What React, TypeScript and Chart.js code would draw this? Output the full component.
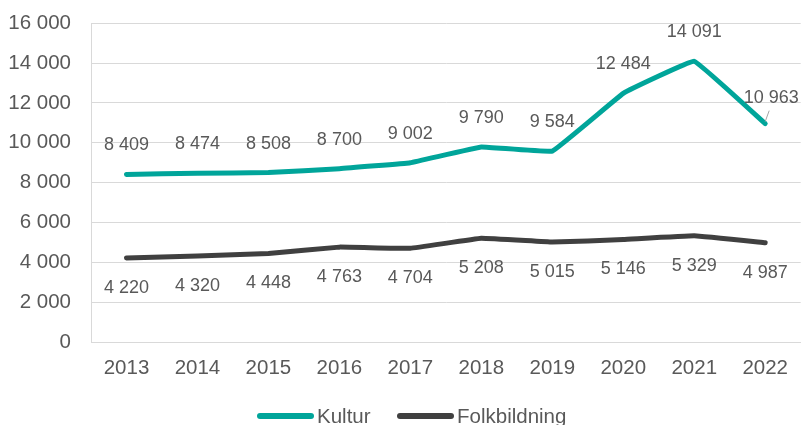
import React, { useEffect, useRef } from "react";
import { Chart, registerables } from "chart.js";

Chart.register(...registerables);

const years = ["2013", "2014", "2015", "2016", "2017", "2018", "2019", "2020", "2021", "2022"];
const kultur = [8409, 8474, 8508, 8700, 9002, 9790, 9584, 12484, 14091, 10963];
const folkbildning = [4220, 4320, 4448, 4763, 4704, 5208, 5015, 5146, 5329, 4987];
const yMax = 16000;
const yStep = 2000;

const FONT = "'Liberation Sans', Arial, sans-serif";
const TEXT = "#595959";
const TEAL = "#00A59A";
const DARK = "#404040";
const GRID = "#d9d9d9";
const SHIFT = 9;

const fmt = (v: number) => {
  const s = Math.round(v).toString();
  return s.replace(/\B(?=(\d{3})+(?!\d))/g, " ");
};

const labelPlugin = {
  id: "valueLabels",
  afterDatasetsDraw(chart: any) {
    const ctx = chart.ctx;
    ctx.save();
    ctx.font = `18px ${FONT}`;
    ctx.fillStyle = TEXT;
    ctx.textAlign = "center";
    ctx.textBaseline = "middle";
    chart.data.datasets.forEach((ds: any, di: number) => {
      const meta = chart.getDatasetMeta(di);
      meta.data.forEach((pt: any, i: number) => {
        const v = ds.data[i];
        const above = di === 0;
        let x = pt.x;
        let y = above ? pt.y - 29 : pt.y + 30;
        const last = i === meta.data.length - 1;
        if (above && last) {
          x = pt.x + 6;
          y = pt.y - 26;
          ctx.strokeStyle = "#a6a6a6";
          ctx.lineWidth = 1;
          ctx.beginPath();
          ctx.moveTo(pt.x, pt.y - 2);
          ctx.lineTo(pt.x + 4, pt.y - 13);
          ctx.stroke();
        }
        ctx.fillText(fmt(v), x, y);
      });
    });
    ctx.restore();
  },
};

const legendPlugin = {
  id: "customLegend",
  afterDraw(chart: any) {
    const ctx = chart.ctx;
    const items = [
      { label: "Kultur", color: TEAL, x: 260 },
      { label: "Folkbildning", color: DARK, x: 400 },
    ];
    const y = 416 + SHIFT;
    ctx.save();
    ctx.font = `20.5px ${FONT}`;
    ctx.textBaseline = "middle";
    ctx.textAlign = "left";
    items.forEach((it) => {
      ctx.strokeStyle = it.color;
      ctx.lineWidth = 6;
      ctx.lineCap = "round";
      ctx.beginPath();
      ctx.moveTo(it.x, y);
      ctx.lineTo(it.x + 51, y);
      ctx.stroke();
      ctx.fillStyle = TEXT;
      ctx.fillText(it.label, it.x + 57, y + 1);
    });
    ctx.restore();
  },
};

export default function App() {
  const ref = useRef<HTMLCanvasElement>(null);
  useEffect(() => {
    if (!ref.current) return;
    const chart = new Chart(ref.current, {
      type: "line",
      data: {
        labels: years,
        datasets: [
          {
            label: "Kultur",
            data: kultur,
            borderColor: TEAL,
            backgroundColor: TEAL,
            borderWidth: 5,
            pointRadius: 0,
            tension: 0.06,
            borderCapStyle: "round",
            borderJoinStyle: "round",
          },
          {
            label: "Folkbildning",
            data: folkbildning,
            borderColor: DARK,
            backgroundColor: DARK,
            borderWidth: 5,
            pointRadius: 0,
            tension: 0.06,
            borderCapStyle: "round",
            borderJoinStyle: "round",
          },
        ],
      },
      options: {
        animation: false,
        responsive: false,
        maintainAspectRatio: false,
        layout: { padding: { top: 11, right: 0, bottom: 38, left: 0 } },
        plugins: { legend: { display: false }, tooltip: { enabled: false } },
        scales: {
          x: {
            offset: true,
            grid: { display: false, drawTicks: false, offset: true },
            border: { display: true, color: GRID, width: 1 },
            ticks: { color: TEXT, font: { family: FONT, size: 20.5 }, padding: 14, maxRotation: 0 },
            afterFit: (s: any) => { s.height = 45; },
          },
          y: {
            min: 0,
            max: yMax,
            grid: { color: GRID, lineWidth: 1, drawTicks: false },
            border: { display: true, color: GRID, width: 1 },
            ticks: {
              stepSize: yStep,
              color: TEXT,
              font: { family: FONT, size: 20.5 },
              padding: 20,
              callback: (v: any) => fmt(Number(v)),
            },
            afterFit: (s: any) => { s.width = 91; },
          },
        },
      },
      plugins: [labelPlugin, legendPlugin],
    });
    return () => chart.destroy();
  }, []);
  return (
    <div style={{ position: "fixed", left: 0, top: 0, width: 802, height: 425, overflow: "hidden", background: "#fff" }}>
      <canvas
        ref={ref}
        width={802}
        height={425 + SHIFT}
        style={{ position: "absolute", left: 0, top: -SHIFT, width: 802, height: 425 + SHIFT, display: "block" }}
      />
    </div>
  );
}
